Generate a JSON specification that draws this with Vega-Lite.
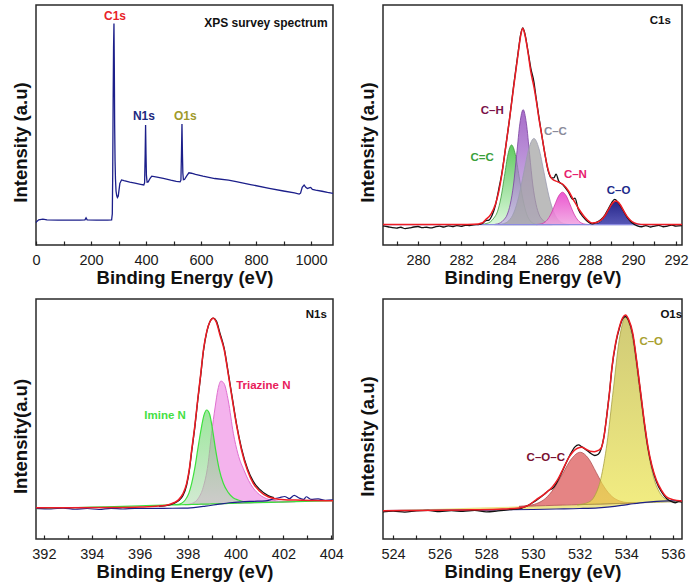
{
"$schema": "https://vega.github.io/schema/vega-lite/v6.json",
"background": "white",
"padding": {"left": 10, "top": 4, "right": 5, "bottom": 5},
"config": {
  "font": "Liberation Sans",
  "view": {"stroke": "#2a2a2a", "strokeWidth": 1.5},
  "axis": {"grid": false, "labelFont": "Liberation Sans", "labelFontSize": 14.5, "labelColor": "#1a1a1a", "titleFont": "Liberation Sans", "titleFontSize": 18.5, "titleFontWeight": "bold", "titleColor": "#111"},
  "axisX": {"tickSize": -4, "tickWidth": 1.2, "tickColor": "#222", "domain": false, "labelPadding": 12, "labelFlush": false, "labelOverlap": false, "labelBound": false, "titlePadding": 2},
  "axisY": {"ticks": false, "labels": false, "domain": false, "titlePadding": 6, "titleY": 137},
  "text": {"font": "Liberation Sans", "fontWeight": "bold", "fontSize": 11.5, "align": "center", "baseline": "middle"}
},
"datasets": {
  "survey": [
    {"x":0,"y":9.3},{"x":3,"y":9.8},{"x":10,"y":10.5},{"x":25,"y":10.8},{"x":40,"y":10.5},{"x":80,"y":10.4},{"x":120,"y":10.4},{"x":160,"y":10.4},{"x":178,"y":10.5},{"x":182,"y":11.3},{"x":186,"y":10.5},{"x":220,"y":10.4},{"x":260,"y":10.4},{"x":275,"y":10.5},{"x":277.5,"y":13},{"x":279,"y":30},{"x":280.5,"y":60},{"x":282,"y":82},{"x":283.5,"y":92.3},{"x":284.8,"y":74},{"x":286,"y":50},{"x":287.5,"y":35},{"x":289,"y":27.5},{"x":291,"y":22.5},{"x":293.5,"y":20.6},{"x":296,"y":19.8},{"x":299,"y":20.3},{"x":302,"y":23},{"x":305,"y":25.7},{"x":311,"y":27.1},{"x":320,"y":26.8},{"x":341,"y":26.2},{"x":360,"y":25.8},{"x":380,"y":25.3},{"x":392,"y":25.0},{"x":395,"y":26},{"x":397,"y":38},{"x":398.5,"y":50},{"x":400,"y":38},{"x":401.5,"y":29},{"x":404,"y":26.2},{"x":408,"y":26.3},{"x":415,"y":27.8},{"x":421,"y":28.7},{"x":440,"y":28.3},{"x":463,"y":27.8},{"x":490,"y":27},{"x":510,"y":26.5},{"x":524,"y":26.3},{"x":527,"y":27},{"x":529,"y":38},{"x":530.8,"y":50.4},{"x":532.5,"y":38},{"x":534,"y":30},{"x":536,"y":27.2},{"x":540,"y":27.3},{"x":548,"y":28.8},{"x":556,"y":30.1},{"x":565,"y":29.9},{"x":580,"y":29.4},{"x":607,"y":28.7},{"x":650,"y":27.7},{"x":700,"y":27},{"x":728,"y":26.4},{"x":780,"y":25.2},{"x":848,"y":23.6},{"x":900,"y":22.5},{"x":940,"y":21.7},{"x":957,"y":21.2},{"x":962,"y":21.6},{"x":968,"y":24},{"x":975,"y":25},{"x":981,"y":24},{"x":987,"y":23.5},{"x":993,"y":23.8},{"x":999,"y":24},{"x":1005,"y":23.2},{"x":1017,"y":22.9},{"x":1040,"y":22.4},{"x":1060,"y":21.9},{"x":1080,"y":21.5}
  ],
  "survLab": [
    {"x":287.4,"y":95.4,"t":"C1s","k":"r"},{"x":392.3,"y":53.9,"t":"N1s","k":"n"},{"x":543,"y":53.9,"t":"O1s","k":"o"},{"x":836,"y":92.6,"t":"XPS survey spectrum","k":"b"}
  ],
  "c1sArea": [
    {"s":"g","x":283.0,"y":8.6,"b":8.5},{"s":"g","x":283.2,"y":9.0,"b":8.5},{"s":"g","x":283.36,"y":9.6,"b":8.5},{"s":"g","x":283.525,"y":11.2,"b":8.5},{"s":"g","x":283.69,"y":13.8,"b":8.5},{"s":"g","x":283.855,"y":19.6,"b":8.5},{"s":"g","x":284.02,"y":28.64,"b":8.5},{"s":"g","x":284.185,"y":37.8,"b":8.5},{"s":"g","x":284.35,"y":41.7,"b":8.5},{"s":"g","x":284.525,"y":37.8,"b":8.5},{"s":"g","x":284.7,"y":28.64,"b":8.5},{"s":"g","x":284.875,"y":19.28,"b":8.5},{"s":"g","x":285.05,"y":12.99,"b":8.5},{"s":"g","x":285.225,"y":9.96,"b":8.5},{"s":"g","x":285.4,"y":8.87,"b":8.5},{"s":"g","x":285.56,"y":8.55,"b":8.5},
    {"s":"ch","x":283.55,"y":8.55,"b":8.5},{"s":"ch","x":283.7,"y":8.8,"b":8.5},{"s":"ch","x":283.84,"y":9.3,"b":8.5},{"s":"ch","x":283.99,"y":10.5,"b":8.5},{"s":"ch","x":284.14,"y":12.5,"b":8.5},{"s":"ch","x":284.29,"y":17,"b":8.5},{"s":"ch","x":284.44,"y":25,"b":8.5},{"s":"ch","x":284.59,"y":37.8,"b":8.5},{"s":"ch","x":284.74,"y":50.77,"b":8.5},{"s":"ch","x":284.89,"y":56.4,"b":8.5},{"s":"ch","x":285.04,"y":50.77,"b":8.5},{"s":"ch","x":285.19,"y":37.8,"b":8.5},{"s":"ch","x":285.34,"y":25,"b":8.5},{"s":"ch","x":285.49,"y":17,"b":8.5},{"s":"ch","x":285.64,"y":12.5,"b":8.5},{"s":"ch","x":285.79,"y":10.5,"b":8.5},{"s":"ch","x":285.94,"y":9.3,"b":8.5},{"s":"ch","x":286.1,"y":8.8,"b":8.5},{"s":"ch","x":286.25,"y":8.55,"b":8.5},
    {"s":"cc","x":283.75,"y":8.55,"b":8.5},{"s":"cc","x":283.98,"y":8.9,"b":8.5},{"s":"cc","x":284.215,"y":10.08,"b":8.5},{"s":"cc","x":284.45,"y":13.36,"b":8.5},{"s":"cc","x":284.685,"y":20.16,"b":8.5},{"s":"cc","x":284.92,"y":30.27,"b":8.5},{"s":"cc","x":285.155,"y":40.18,"b":8.5},{"s":"cc","x":285.39,"y":44.4,"b":8.5},{"s":"cc","x":285.625,"y":40.18,"b":8.5},{"s":"cc","x":285.86,"y":30.27,"b":8.5},{"s":"cc","x":286.095,"y":20.16,"b":8.5},{"s":"cc","x":286.33,"y":13.36,"b":8.5},{"s":"cc","x":286.565,"y":10.08,"b":8.5},{"s":"cc","x":286.8,"y":8.9,"b":8.5},{"s":"cc","x":287.03,"y":8.55,"b":8.5},
    {"s":"cn","x":285.5,"y":8.55,"b":8.5},{"s":"cn","x":285.64,"y":8.65,"b":8.5},{"s":"cn","x":285.82,"y":9.09,"b":8.5},{"s":"cn","x":286.0,"y":10.33,"b":8.5},{"s":"cn","x":286.18,"y":12.88,"b":8.5},{"s":"cn","x":286.36,"y":16.69,"b":8.5},{"s":"cn","x":286.54,"y":20.41,"b":8.5},{"s":"cn","x":286.72,"y":22.0,"b":8.5},{"s":"cn","x":286.9,"y":20.41,"b":8.5},{"s":"cn","x":287.08,"y":16.69,"b":8.5},{"s":"cn","x":287.26,"y":12.88,"b":8.5},{"s":"cn","x":287.44,"y":10.33,"b":8.5},{"s":"cn","x":287.62,"y":9.09,"b":8.5},{"s":"cn","x":287.8,"y":8.65,"b":8.5},{"s":"cn","x":287.95,"y":8.55,"b":8.5},
    {"s":"co","x":288.0,"y":8.55,"b":8.5},{"s":"co","x":288.15,"y":8.61,"b":8.5},{"s":"co","x":288.325,"y":8.92,"b":8.5},{"s":"co","x":288.5,"y":9.79,"b":8.5},{"s":"co","x":288.675,"y":11.58,"b":8.5},{"s":"co","x":288.85,"y":14.26,"b":8.5},{"s":"co","x":289.025,"y":16.88,"b":8.5},{"s":"co","x":289.2,"y":18.0,"b":8.5},{"s":"co","x":289.375,"y":16.88,"b":8.5},{"s":"co","x":289.55,"y":14.26,"b":8.5},{"s":"co","x":289.725,"y":11.58,"b":8.5},{"s":"co","x":289.9,"y":9.79,"b":8.5},{"s":"co","x":290.075,"y":8.92,"b":8.5},{"s":"co","x":290.25,"y":8.61,"b":8.5},{"s":"co","x":290.4,"y":8.55,"b":8.5}
  ],
  "c1sLine": [
    {"s":"base","x":278.37,"y":8.5},{"s":"base","x":292.28,"y":8.5},
    {"s":"raw","x":278.37,"y":8.0},{"s":"raw","x":278.6,"y":7.6},{"s":"raw","x":278.8,"y":7.2},{"s":"raw","x":279.0,"y":7.0},{"s":"raw","x":279.2,"y":7.4},{"s":"raw","x":279.4,"y":6.8},{"s":"raw","x":279.6,"y":7.1},{"s":"raw","x":279.8,"y":7.5},{"s":"raw","x":280.0,"y":7.7},{"s":"raw","x":280.2,"y":7.2},{"s":"raw","x":280.4,"y":7.4},{"s":"raw","x":280.6,"y":7.1},{"s":"raw","x":280.8,"y":7.6},{"s":"raw","x":281.0,"y":7.9},{"s":"raw","x":281.2,"y":7.5},{"s":"raw","x":281.4,"y":8.0},{"s":"raw","x":281.6,"y":7.7},{"s":"raw","x":281.8,"y":8.1},{"s":"raw","x":282.0,"y":7.8},{"s":"raw","x":282.2,"y":8.2},{"s":"raw","x":282.4,"y":8.1},{"s":"raw","x":282.6,"y":8.4},{"s":"raw","x":282.8,"y":8.5},{"s":"raw","x":283.0,"y":9.0},{"s":"raw","x":283.15,"y":10.2},{"s":"raw","x":283.3,"y":10.4},{"s":"raw","x":283.45,"y":12.5},{"s":"raw","x":283.6,"y":16.5},{"s":"raw","x":283.75,"y":23},{"s":"raw","x":283.91,"y":30.5},{"s":"raw","x":284.05,"y":39},{"s":"raw","x":284.25,"y":52},{"s":"raw","x":284.45,"y":66.5},{"s":"raw","x":284.66,"y":80.5},{"s":"raw","x":284.78,"y":88},{"s":"raw","x":284.87,"y":90.5},{"s":"raw","x":284.96,"y":88.5},{"s":"raw","x":285.12,"y":80.5},{"s":"raw","x":285.25,"y":73.5},{"s":"raw","x":285.39,"y":68},{"s":"raw","x":285.49,"y":61.5},{"s":"raw","x":285.62,"y":53.5},{"s":"raw","x":285.77,"y":45},{"s":"raw","x":285.9,"y":38},{"s":"raw","x":286.05,"y":31},{"s":"raw","x":286.2,"y":28},{"s":"raw","x":286.32,"y":28},{"s":"raw","x":286.42,"y":29.5},{"s":"raw","x":286.55,"y":26.5},{"s":"raw","x":286.75,"y":25},{"s":"raw","x":287.0,"y":22},{"s":"raw","x":287.2,"y":19},{"s":"raw","x":287.3,"y":19.5},{"s":"raw","x":287.45,"y":15},{"s":"raw","x":287.7,"y":11.5},{"s":"raw","x":287.86,"y":10},{"s":"raw","x":288.1,"y":8.8},{"s":"raw","x":288.3,"y":9.4},{"s":"raw","x":288.5,"y":10.5},{"s":"raw","x":288.7,"y":12.6},{"s":"raw","x":288.85,"y":15.0},{"s":"raw","x":289.0,"y":17.5},{"s":"raw","x":289.15,"y":19.0},{"s":"raw","x":289.3,"y":17.8},{"s":"raw","x":289.45,"y":15.8},{"s":"raw","x":289.6,"y":13.5},{"s":"raw","x":289.75,"y":11.3},{"s":"raw","x":289.95,"y":9.3},{"s":"raw","x":290.2,"y":8.0},{"s":"raw","x":290.4,"y":7.6},{"s":"raw","x":290.6,"y":8.1},{"s":"raw","x":290.8,"y":7.5},{"s":"raw","x":291.0,"y":7.9},{"s":"raw","x":291.2,"y":8.2},{"s":"raw","x":291.4,"y":7.6},{"s":"raw","x":291.6,"y":7.9},{"s":"raw","x":291.8,"y":8.3},{"s":"raw","x":292.0,"y":7.9},{"s":"raw","x":292.28,"y":8.1},
    {"s":"fit","x":278.37,"y":8.5},{"s":"fit","x":282.0,"y":8.5},{"s":"fit","x":282.6,"y":8.6},{"s":"fit","x":283.0,"y":9.3},{"s":"fit","x":283.14,"y":10.5},{"s":"fit","x":283.4,"y":13.0},{"s":"fit","x":283.6,"y":17.0},{"s":"fit","x":283.75,"y":22},{"s":"fit","x":283.91,"y":30},{"s":"fit","x":284.05,"y":39},{"s":"fit","x":284.25,"y":52},{"s":"fit","x":284.45,"y":66},{"s":"fit","x":284.66,"y":80},{"s":"fit","x":284.78,"y":87.5},{"s":"fit","x":284.87,"y":90.3},{"s":"fit","x":284.96,"y":88},{"s":"fit","x":285.12,"y":80},{"s":"fit","x":285.25,"y":72},{"s":"fit","x":285.39,"y":66},{"s":"fit","x":285.49,"y":60.8},{"s":"fit","x":285.62,"y":53},{"s":"fit","x":285.77,"y":45},{"s":"fit","x":285.9,"y":38},{"s":"fit","x":286.05,"y":31.5},{"s":"fit","x":286.24,"y":27.5},{"s":"fit","x":286.5,"y":26.3},{"s":"fit","x":286.75,"y":25.2},{"s":"fit","x":287.0,"y":22.5},{"s":"fit","x":287.25,"y":18.5},{"s":"fit","x":287.48,"y":15},{"s":"fit","x":287.7,"y":12.2},{"s":"fit","x":287.86,"y":10.6},{"s":"fit","x":288.1,"y":9.2},{"s":"fit","x":288.3,"y":9.4},{"s":"fit","x":288.5,"y":10.3},{"s":"fit","x":288.7,"y":12.3},{"s":"fit","x":288.85,"y":14.6},{"s":"fit","x":289.0,"y":16.9},{"s":"fit","x":289.2,"y":18.3},{"s":"fit","x":289.4,"y":16.9},{"s":"fit","x":289.55,"y":14.5},{"s":"fit","x":289.75,"y":11.6},{"s":"fit","x":289.95,"y":9.8},{"s":"fit","x":290.2,"y":8.8},{"s":"fit","x":290.5,"y":8.5},{"s":"fit","x":292.28,"y":8.5}
  ],
  "c1sLab": [
    {"x":283.45,"y":56,"t":"C–H","k":"ch"},{"x":286.39,"y":47.2,"t":"C–C","k":"cc"},{"x":282.98,"y":36.1,"t":"C=C","k":"g"},{"x":287.32,"y":29.3,"t":"C–N","k":"cn"},{"x":289.33,"y":22.6,"t":"C–O","k":"co"},{"x":291.27,"y":93.5,"t":"C1s","k":"b"}
  ],
  "n1sArea": [
    {"s":"tri","x":397.9,"y":14.31,"b":14.31},{"s":"tri","x":398.2,"y":14.9,"b":14.4},{"s":"tri","x":398.45,"y":17.0,"b":14.46},{"s":"tri","x":398.65,"y":21.5,"b":14.52},{"s":"tri","x":398.85,"y":31,"b":14.58},{"s":"tri","x":399.0,"y":44,"b":14.62},{"s":"tri","x":399.15,"y":55,"b":14.66},{"s":"tri","x":399.27,"y":62.5,"b":14.69},{"s":"tri","x":399.39,"y":65.8,"b":14.72},{"s":"tri","x":399.52,"y":64.8,"b":14.76},{"s":"tri","x":399.7,"y":57.5,"b":14.81},{"s":"tri","x":399.91,"y":44,"b":14.87},{"s":"tri","x":400.1,"y":35.5,"b":14.92},{"s":"tri","x":400.36,"y":28.5,"b":14.99},{"s":"tri","x":400.55,"y":24.3,"b":15.04},{"s":"tri","x":400.74,"y":21.2,"b":15.1},{"s":"tri","x":401.0,"y":18.5,"b":15.17},{"s":"tri","x":401.3,"y":16.8,"b":15.25},{"s":"tri","x":401.7,"y":15.9,"b":15.36},{"s":"tri","x":402.1,"y":15.5,"b":15.47},{"s":"tri","x":402.5,"y":15.57,"b":15.57},
    {"s":"imi","x":391.67,"y":12.6,"b":12.6},{"s":"imi","x":394,"y":13.24,"b":13.24},{"s":"imi","x":396,"y":13.79,"b":13.79},{"s":"imi","x":397.0,"y":14.1,"b":14.06},{"s":"imi","x":397.5,"y":14.3,"b":14.2},{"s":"imi","x":397.75,"y":14.9,"b":14.27},{"s":"imi","x":397.9,"y":16.25,"b":14.31},{"s":"imi","x":398.05,"y":19,"b":14.35},{"s":"imi","x":398.17,"y":23.2,"b":14.38},{"s":"imi","x":398.3,"y":29.5,"b":14.42},{"s":"imi","x":398.42,"y":37.1,"b":14.45},{"s":"imi","x":398.55,"y":45,"b":14.49},{"s":"imi","x":398.68,"y":51.5,"b":14.52},{"s":"imi","x":398.8,"y":53.75,"b":14.55},{"s":"imi","x":398.92,"y":52,"b":14.59},{"s":"imi","x":399.05,"y":45,"b":14.62},{"s":"imi","x":399.17,"y":37.1,"b":14.65},{"s":"imi","x":399.32,"y":29,"b":14.7},{"s":"imi","x":399.49,"y":23.2,"b":14.74},{"s":"imi","x":399.7,"y":19.3,"b":14.8},{"s":"imi","x":399.9,"y":17.2,"b":14.85},{"s":"imi","x":400.11,"y":16.25,"b":14.91},{"s":"imi","x":400.4,"y":15.5,"b":14.99},{"s":"imi","x":400.8,"y":15.3,"b":15.1},{"s":"imi","x":401.5,"y":15.35,"b":15.29},{"s":"imi","x":402.5,"y":15.6,"b":15.57},{"s":"imi","x":404.07,"y":16.0,"b":16.0}
  ],
  "n1sLine": [
    {"s":"bg","x":391.67,"y":12.8},{"s":"bg","x":392.3,"y":12.5},{"s":"bg","x":392.8,"y":12.9},{"s":"bg","x":393.3,"y":12.4},{"s":"bg","x":393.8,"y":12.7},{"s":"bg","x":394.3,"y":12.3},{"s":"bg","x":394.8,"y":12.8},{"s":"bg","x":395.3,"y":12.5},{"s":"bg","x":395.8,"y":12.8},{"s":"bg","x":396.3,"y":12.7},{"s":"bg","x":397.0,"y":12.8},{"s":"bg","x":397.8,"y":12.85},{"s":"bg","x":398.25,"y":13.1},{"s":"bg","x":398.75,"y":13.7},{"s":"bg","x":399.25,"y":14.4},{"s":"bg","x":399.75,"y":15.1},{"s":"bg","x":400.25,"y":15.5},{"s":"bg","x":400.75,"y":15.7},{"s":"bg","x":401.25,"y":15.9},{"s":"bg","x":401.55,"y":16.6},{"s":"bg","x":401.85,"y":17.3},{"s":"bg","x":402.05,"y":17.7},{"s":"bg","x":402.25,"y":16.8},{"s":"bg","x":402.45,"y":18.2},{"s":"bg","x":402.65,"y":17.1},{"s":"bg","x":402.85,"y":16.5},{"s":"bg","x":402.95,"y":17.6},{"s":"bg","x":403.15,"y":16.5},{"s":"bg","x":403.45,"y":16.7},{"s":"bg","x":403.75,"y":16.1},{"s":"bg","x":404.07,"y":16.3},
    {"s":"raw","x":396.8,"y":13.6},{"s":"raw","x":397.2,"y":14.1},{"s":"raw","x":397.45,"y":14.9},{"s":"raw","x":397.62,"y":15.9},{"s":"raw","x":397.8,"y":18.0},{"s":"raw","x":397.96,"y":22.5},{"s":"raw","x":398.07,"y":28.5},{"s":"raw","x":398.17,"y":36.5},{"s":"raw","x":398.3,"y":46.5},{"s":"raw","x":398.42,"y":57.5},{"s":"raw","x":398.55,"y":68.5},{"s":"raw","x":398.66,"y":78.3},{"s":"raw","x":398.8,"y":86.3},{"s":"raw","x":398.93,"y":90.5},{"s":"raw","x":399.07,"y":92},{"s":"raw","x":399.2,"y":90.8},{"s":"raw","x":399.35,"y":85.8},{"s":"raw","x":399.53,"y":79.3},{"s":"raw","x":399.7,"y":69},{"s":"raw","x":399.87,"y":58.5},{"s":"raw","x":400.05,"y":47.5},{"s":"raw","x":400.25,"y":37.8},{"s":"raw","x":400.5,"y":29.3},{"s":"raw","x":400.74,"y":24},{"s":"raw","x":401.0,"y":20.8},{"s":"raw","x":401.36,"y":18.1},{"s":"raw","x":401.6,"y":17.2},
    {"s":"fit","x":391.67,"y":13.0},{"s":"fit","x":393,"y":13.0},{"s":"fit","x":395,"y":13.1},{"s":"fit","x":396,"y":13.3},{"s":"fit","x":396.8,"y":13.7},{"s":"fit","x":397.2,"y":14.3},{"s":"fit","x":397.45,"y":15.2},{"s":"fit","x":397.62,"y":16.3},{"s":"fit","x":397.8,"y":18.8},{"s":"fit","x":397.96,"y":23.2},{"s":"fit","x":398.07,"y":29},{"s":"fit","x":398.17,"y":37.1},{"s":"fit","x":398.3,"y":47},{"s":"fit","x":398.42,"y":57.9},{"s":"fit","x":398.55,"y":69},{"s":"fit","x":398.66,"y":78.75},{"s":"fit","x":398.8,"y":86.5},{"s":"fit","x":398.93,"y":90.5},{"s":"fit","x":399.07,"y":92},{"s":"fit","x":399.2,"y":90.3},{"s":"fit","x":399.35,"y":85},{"s":"fit","x":399.53,"y":78.75},{"s":"fit","x":399.7,"y":68.5},{"s":"fit","x":399.87,"y":57.9},{"s":"fit","x":400.05,"y":47},{"s":"fit","x":400.25,"y":37.1},{"s":"fit","x":400.5,"y":28.5},{"s":"fit","x":400.74,"y":23.2},{"s":"fit","x":401.0,"y":20},{"s":"fit","x":401.36,"y":17.6},{"s":"fit","x":401.8,"y":16.6},{"s":"fit","x":402.5,"y":16.2},{"s":"fit","x":403.3,"y":16.0},{"s":"fit","x":404.07,"y":15.9}
  ],
  "n1sLab": [
    {"x":397.06,"y":51.25,"t":"Imine N","k":"g"},{"x":401.16,"y":63.9,"t":"Triazine N","k":"t"},{"x":403.37,"y":93.3,"t":"N1s","k":"b"}
  ],
  "o1sArea": [
    {"s":"w","x":523.57,"y":11.9,"b":11.8},{"s":"w","x":526,"y":12.6,"b":11.9},{"s":"w","x":528,"y":13.18,"b":12.1},{"s":"w","x":530,"y":13.76,"b":12.3},{"s":"w","x":531,"y":14.04,"b":12.5},{"s":"w","x":532,"y":14.33,"b":12.7},{"s":"w","x":533,"y":14.62,"b":13.2},{"s":"w","x":533.8,"y":14.85,"b":14.0},{"s":"w","x":534.3,"y":15.0,"b":14.7},{"s":"w","x":534.6,"y":15.08,"b":15.05},
    {"s":"coc","x":529.4,"y":13.58,"b":13.58},{"s":"coc","x":529.78,"y":13.93,"b":13.69},{"s":"coc","x":530.155,"y":14.76,"b":13.8},{"s":"coc","x":530.53,"y":16.86,"b":13.91},{"s":"coc","x":530.905,"y":21.1,"b":14.02},{"s":"coc","x":531.28,"y":27.35,"b":14.13},{"s":"coc","x":531.655,"y":33.47,"b":14.23},{"s":"coc","x":532.03,"y":36.14,"b":14.34},{"s":"coc","x":532.37,"y":33.68,"b":14.44},{"s":"coc","x":532.71,"y":27.76,"b":14.54},{"s":"coc","x":533.05,"y":21.72,"b":14.64},{"s":"coc","x":533.39,"y":17.69,"b":14.74},{"s":"coc","x":533.73,"y":15.79,"b":14.83},{"s":"coc","x":534.07,"y":15.17,"b":14.93},{"s":"coc","x":534.4,"y":15.02,"b":15.02},
    {"s":"co","x":531.9,"y":14.25,"b":14.25},{"s":"co","x":532.38,"y":15.3,"b":14.44},{"s":"co","x":532.645,"y":17.93,"b":14.52},{"s":"co","x":532.91,"y":25.1,"b":14.6},{"s":"co","x":533.175,"y":39.87,"b":14.67},{"s":"co","x":533.44,"y":61.81,"b":14.75},{"s":"co","x":533.705,"y":83.31,"b":14.83},{"s":"co","x":533.97,"y":92.5,"b":14.9},{"s":"co","x":534.27,"y":83.47,"b":14.99},{"s":"co","x":534.57,"y":62.14,"b":15.08},{"s":"co","x":534.87,"y":40.36,"b":15.16},{"s":"co","x":535.17,"y":25.75,"b":15.25},{"s":"co","x":535.47,"y":18.74,"b":15.33},{"s":"co","x":535.77,"y":16.28,"b":15.42},{"s":"co","x":536.1,"y":15.6,"b":15.52},{"s":"co","x":536.39,"y":15.6,"b":15.6}
  ],
  "o1sLine": [
    {"s":"bg","x":523.57,"y":11.8},{"s":"bg","x":527,"y":12.0},{"s":"bg","x":530,"y":12.3},{"s":"bg","x":531,"y":12.5},{"s":"bg","x":532,"y":12.7},{"s":"bg","x":532.8,"y":13.0},{"s":"bg","x":533.3,"y":13.4},{"s":"bg","x":533.8,"y":14.0},{"s":"bg","x":534.3,"y":14.7},{"s":"bg","x":534.8,"y":15.3},{"s":"bg","x":535.3,"y":15.7},{"s":"bg","x":535.8,"y":15.9},{"s":"bg","x":536.39,"y":16.0},
    {"s":"raw","x":523.57,"y":11.3},{"s":"raw","x":524.0,"y":11.6},{"s":"raw","x":524.5,"y":11.2},{"s":"raw","x":525.0,"y":11.7},{"s":"raw","x":525.5,"y":11.9},{"s":"raw","x":526.0,"y":11.4},{"s":"raw","x":526.5,"y":11.8},{"s":"raw","x":527.0,"y":11.5},{"s":"raw","x":527.5,"y":11.9},{"s":"raw","x":528.0,"y":11.3},{"s":"raw","x":528.5,"y":11.7},{"s":"raw","x":529.0,"y":12.2},{"s":"raw","x":529.5,"y":12.8},{"s":"raw","x":530.0,"y":15.2},{"s":"raw","x":530.5,"y":18.8},{"s":"raw","x":530.7,"y":20.4},{"s":"raw","x":530.84,"y":21},{"s":"raw","x":531.05,"y":24},{"s":"raw","x":531.27,"y":28.5},{"s":"raw","x":531.56,"y":34.5},{"s":"raw","x":531.8,"y":38.4},{"s":"raw","x":531.95,"y":39.2},{"s":"raw","x":532.1,"y":38.4},{"s":"raw","x":532.3,"y":37},{"s":"raw","x":532.5,"y":35.5},{"s":"raw","x":532.65,"y":34.8},{"s":"raw","x":532.8,"y":35.3},{"s":"raw","x":532.92,"y":37.5},{"s":"raw","x":533.05,"y":43},{"s":"raw","x":533.16,"y":51},{"s":"raw","x":533.28,"y":61},{"s":"raw","x":533.39,"y":71.5},{"s":"raw","x":533.55,"y":81.5},{"s":"raw","x":533.71,"y":88},{"s":"raw","x":533.85,"y":91.8},{"s":"raw","x":533.97,"y":92.7},{"s":"raw","x":534.1,"y":91},{"s":"raw","x":534.28,"y":85},{"s":"raw","x":534.45,"y":73.5},{"s":"raw","x":534.64,"y":58.8},{"s":"raw","x":534.8,"y":46.5},{"s":"raw","x":534.93,"y":38},{"s":"raw","x":535.1,"y":30},{"s":"raw","x":535.29,"y":24},{"s":"raw","x":535.5,"y":19.8},{"s":"raw","x":535.72,"y":17.0},{"s":"raw","x":535.9,"y":15.8},{"s":"raw","x":536.1,"y":15.1},{"s":"raw","x":536.25,"y":15.6},{"s":"raw","x":536.39,"y":15.4},
    {"s":"fit","x":523.57,"y":11.8},{"s":"fit","x":525,"y":11.9},{"s":"fit","x":527,"y":12.1},{"s":"fit","x":528.5,"y":12.4},{"s":"fit","x":529.4,"y":12.9},{"s":"fit","x":529.8,"y":14.0},{"s":"fit","x":530.12,"y":16.25},{"s":"fit","x":530.5,"y":18.8},{"s":"fit","x":530.84,"y":21.8},{"s":"fit","x":531.05,"y":24.6},{"s":"fit","x":531.27,"y":28.75},{"s":"fit","x":531.56,"y":34.3},{"s":"fit","x":531.91,"y":37.8},{"s":"fit","x":532.1,"y":38.2},{"s":"fit","x":532.27,"y":37.4},{"s":"fit","x":532.45,"y":36.6},{"s":"fit","x":532.63,"y":36.4},{"s":"fit","x":532.8,"y":36.9},{"s":"fit","x":532.92,"y":37.8},{"s":"fit","x":533.05,"y":43},{"s":"fit","x":533.16,"y":51},{"s":"fit","x":533.28,"y":61},{"s":"fit","x":533.39,"y":71.8},{"s":"fit","x":533.55,"y":82},{"s":"fit","x":533.71,"y":88.5},{"s":"fit","x":533.85,"y":92.2},{"s":"fit","x":533.97,"y":93.3},{"s":"fit","x":534.1,"y":91.5},{"s":"fit","x":534.28,"y":85.7},{"s":"fit","x":534.45,"y":74},{"s":"fit","x":534.64,"y":59.3},{"s":"fit","x":534.8,"y":47},{"s":"fit","x":534.93,"y":38.5},{"s":"fit","x":535.1,"y":30.5},{"s":"fit","x":535.29,"y":24.6},{"s":"fit","x":535.5,"y":20.5},{"s":"fit","x":535.72,"y":17.6},{"s":"fit","x":536.0,"y":16.4},{"s":"fit","x":536.39,"y":15.8}
  ],
  "o1sLab": [
    {"x":535.07,"y":82.2,"t":"C–O","k":"y"},{"x":530.55,"y":33.6,"t":"C–O–C","k":"m"},{"x":535.93,"y":93.3,"t":"O1s","k":"b"}
  ]
},
"columns": 2,
"spacing": {"row": 54, "column": 50},
"bounds": "flush",
"resolve": {"scale": {"color": "independent"}},
"concat": [
  {
    "width": 297, "height": 240,
    "encoding": {
      "x": {"field": "x", "type": "quantitative", "scale": {"domain": [0, 1080], "nice": false, "zero": false}, "axis": {"title": "Binding Energy (eV)", "format": "d", "values": [0,100,200,300,400,500,600,700,800,900,1000], "labelExpr": "datum.value % 200 === 0 ? datum.label : ''"}},
      "y": {"field": "y", "type": "quantitative", "scale": {"domain": [0, 100], "nice": false, "zero": false}, "axis": {"title": "Intensity (a.u)"}}
    },
    "layer": [
      {"data": {"name": "survey"}, "mark": {"type": "line", "color": "#1c1f8a", "strokeWidth": 1.3}},
      {"data": {"name": "survLab"}, "mark": {"type": "text", "fontSize": 12}, "encoding": {"text": {"field": "t"}, "color": {"field": "k", "type": "nominal", "scale": {"domain": ["r","n","o","b"], "range": ["#e8232a","#1c2a80","#a09a2a","#111111"]}, "legend": null}}}
    ]
  },
  {
    "width": 299, "height": 240,
    "encoding": {
      "x": {"field": "x", "type": "quantitative", "scale": {"domain": [278.37, 292.28], "nice": false, "zero": false}, "axis": {"title": "Binding Energy (eV)", "format": "d", "values": [279,280,281,282,283,284,285,286,287,288,289,290,291,292], "labelExpr": "datum.value % 2 === 0 ? datum.label : ''"}},
      "y": {"field": "y", "type": "quantitative", "scale": {"domain": [0, 100], "nice": false, "zero": false}, "axis": {"title": "Intensity (a.u)"}}
    },
    "layer": [
      {"data": {"name": "c1sArea"}, "transform": [{"filter": "datum.s === 'g'"}], "mark": {"type": "area", "interpolate": "monotone", "fillOpacity": 0.85, "stroke": "#3a9a3a", "strokeWidth": 0.8, "color": {"gradient": "linear", "x1": 0, "y1": 0, "x2": 0, "y2": 1, "stops": [{"offset": 0, "color": "#45c045"}, {"offset": 1, "color": "#d4f6d4"}]}}, "encoding": {"y2": {"field": "b"}}},
      {"data": {"name": "c1sArea"}, "transform": [{"filter": "datum.s === 'ch'"}], "mark": {"type": "area", "interpolate": "monotone", "fillOpacity": 0.72, "stroke": "#7a3fa0", "strokeWidth": 0.8, "color": {"gradient": "linear", "x1": 0, "y1": 0, "x2": 0, "y2": 1, "stops": [{"offset": 0, "color": "#8634b4"}, {"offset": 1, "color": "#c4aee6"}]}}, "encoding": {"y2": {"field": "b"}}},
      {"data": {"name": "c1sArea"}, "transform": [{"filter": "datum.s === 'cc'"}], "mark": {"type": "area", "interpolate": "monotone", "fillOpacity": 0.72, "stroke": "#9a9ab0", "strokeWidth": 0.8, "color": "#a2a2a2"}, "encoding": {"y2": {"field": "b"}}},
      {"data": {"name": "c1sArea"}, "transform": [{"filter": "datum.s === 'cn'"}], "mark": {"type": "area", "interpolate": "monotone", "fillOpacity": 0.85, "stroke": "#d03aa8", "strokeWidth": 0.8, "color": {"gradient": "linear", "x1": 0, "y1": 0, "x2": 0, "y2": 1, "stops": [{"offset": 0, "color": "#e83ac8"}, {"offset": 1, "color": "#f0a0e0"}]}}, "encoding": {"y2": {"field": "b"}}},
      {"data": {"name": "c1sArea"}, "transform": [{"filter": "datum.s === 'co'"}], "mark": {"type": "area", "interpolate": "monotone", "fillOpacity": 0.92, "stroke": "#10106a", "strokeWidth": 0.8, "color": {"gradient": "linear", "x1": 0, "y1": 0, "x2": 0, "y2": 1, "stops": [{"offset": 0, "color": "#141480"}, {"offset": 1, "color": "#4a4ab0"}]}}, "encoding": {"y2": {"field": "b"}}},
      {"data": {"name": "c1sLine"}, "transform": [{"filter": "datum.s === 'base'"}], "mark": {"type": "line", "color": "#8a8ae0", "strokeWidth": 1.2}},
      {"data": {"name": "c1sLine"}, "transform": [{"filter": "datum.s === 'raw'"}], "mark": {"type": "line", "color": "#111111", "strokeWidth": 1.3, "interpolate": "monotone"}},
      {"data": {"name": "c1sLine"}, "transform": [{"filter": "datum.s === 'fit'"}], "mark": {"type": "line", "color": "#ee1c24", "strokeWidth": 1.5, "interpolate": "monotone"}},
      {"data": {"name": "c1sLab"}, "mark": {"type": "text"}, "encoding": {"text": {"field": "t"}, "color": {"field": "k", "type": "nominal", "scale": {"domain": ["ch","cc","g","cn","co","b"], "range": ["#7a1248","#8a8a9a","#3aa03a","#e6206e","#1c2a8a","#111111"]}, "legend": null}}}
    ]
  },
  {
    "width": 297, "height": 240,
    "encoding": {
      "x": {"field": "x", "type": "quantitative", "scale": {"domain": [391.67, 404.07], "nice": false, "zero": false}, "axis": {"title": "Binding Energy (eV)", "format": "d", "values": [392,393,394,395,396,397,398,399,400,401,402,403,404], "labelExpr": "datum.value % 2 === 0 ? datum.label : ''"}},
      "y": {"field": "y", "type": "quantitative", "scale": {"domain": [0, 100], "nice": false, "zero": false}, "axis": {"title": "Intensity(a.u)"}}
    },
    "layer": [
      {"data": {"name": "n1sArea"}, "transform": [{"filter": "datum.s === 'tri'"}], "mark": {"type": "area", "interpolate": "monotone", "fillOpacity": 0.85, "stroke": "#e070d0", "strokeWidth": 1, "color": "#f2a6ea"}, "encoding": {"y2": {"field": "b"}}},
      {"data": {"name": "n1sArea"}, "transform": [{"filter": "datum.s === 'imi'"}], "mark": {"type": "area", "interpolate": "monotone", "fillOpacity": 0.6, "stroke": "#3de03d", "strokeWidth": 1.2, "color": {"gradient": "linear", "x1": 0, "y1": 0, "x2": 0, "y2": 1, "stops": [{"offset": 0, "color": "#5cd65c"}, {"offset": 1, "color": "#b8dcb8"}]}}, "encoding": {"y2": {"field": "b"}}},
      {"data": {"name": "n1sLine"}, "transform": [{"filter": "datum.s === 'bg'"}], "mark": {"type": "line", "color": "#1c1f8a", "strokeWidth": 1.2, "interpolate": "monotone"}},
      {"data": {"name": "n1sLine"}, "transform": [{"filter": "datum.s === 'raw'"}], "mark": {"type": "line", "color": "#111111", "strokeWidth": 1.3, "interpolate": "monotone"}},
      {"data": {"name": "n1sLine"}, "transform": [{"filter": "datum.s === 'fit'"}], "mark": {"type": "line", "color": "#ee1c24", "strokeWidth": 1.5, "interpolate": "monotone"}},
      {"data": {"name": "n1sLab"}, "mark": {"type": "text"}, "encoding": {"text": {"field": "t"}, "color": {"field": "k", "type": "nominal", "scale": {"domain": ["g","t","b"], "range": ["#44e044","#e8205a","#111111"]}, "legend": null}}}
    ]
  },
  {
    "width": 299, "height": 240,
    "encoding": {
      "x": {"field": "x", "type": "quantitative", "scale": {"domain": [523.57, 536.39], "nice": false, "zero": false}, "axis": {"title": "Binding Energy (eV)", "format": "d", "values": [524,525,526,527,528,529,530,531,532,533,534,535,536], "labelExpr": "datum.value % 2 === 0 ? datum.label : ''"}},
      "y": {"field": "y", "type": "quantitative", "scale": {"domain": [0, 100], "nice": false, "zero": false}, "axis": {"title": "Intensity (a.u)"}}
    },
    "layer": [
      {"data": {"name": "o1sArea"}, "transform": [{"filter": "datum.s === 'w'"}], "mark": {"type": "area", "interpolate": "monotone", "fillOpacity": 0.8, "color": "#e8e070"}, "encoding": {"y2": {"field": "b"}}},
      {"data": {"name": "o1sArea"}, "transform": [{"filter": "datum.s === 'coc'"}], "mark": {"type": "area", "interpolate": "monotone", "fillOpacity": 0.85, "stroke": "#b05050", "strokeWidth": 0.8, "color": "#e06e6e"}, "encoding": {"y2": {"field": "b"}}},
      {"data": {"name": "o1sArea"}, "transform": [{"filter": "datum.s === 'co'"}], "mark": {"type": "area", "interpolate": "monotone", "fillOpacity": 0.7, "stroke": "#a8a040", "strokeWidth": 0.8, "color": {"gradient": "linear", "x1": 0, "y1": 0, "x2": 0, "y2": 1, "stops": [{"offset": 0, "color": "#bcb43c"}, {"offset": 1, "color": "#ece44c"}]}}, "encoding": {"y2": {"field": "b"}}},
      {"data": {"name": "o1sLine"}, "transform": [{"filter": "datum.s === 'bg'"}], "mark": {"type": "line", "color": "#1c1f8a", "strokeWidth": 1.2, "interpolate": "monotone"}},
      {"data": {"name": "o1sLine"}, "transform": [{"filter": "datum.s === 'raw'"}], "mark": {"type": "line", "color": "#111111", "strokeWidth": 1.3, "interpolate": "monotone"}},
      {"data": {"name": "o1sLine"}, "transform": [{"filter": "datum.s === 'fit'"}], "mark": {"type": "line", "color": "#ee1c24", "strokeWidth": 1.5, "interpolate": "monotone"}},
      {"data": {"name": "o1sLab"}, "mark": {"type": "text"}, "encoding": {"text": {"field": "t"}, "color": {"field": "k", "type": "nominal", "scale": {"domain": ["y","m","b"], "range": ["#a8a030","#7a1030","#111111"]}, "legend": null}}}
    ]
  }
]
}
